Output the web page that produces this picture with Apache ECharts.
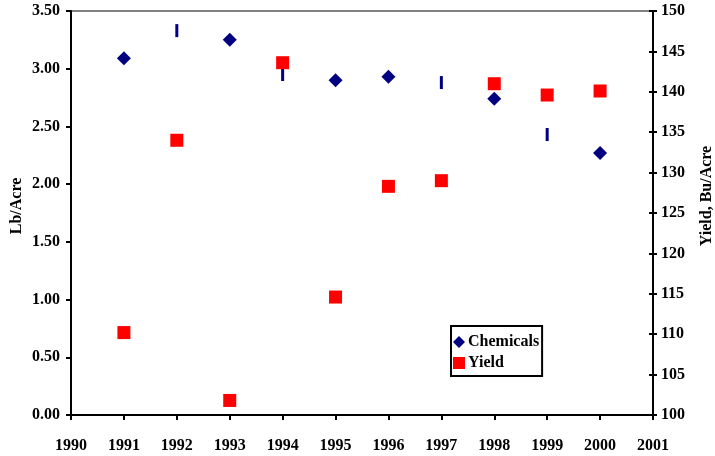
<!DOCTYPE html>
<html>
<head>
<meta charset="utf-8">
<script src="https://cdn.jsdelivr.net/npm/echarts@6/dist/echarts.min.js"></script>
<style>html,body{margin:0;padding:0;background:#fff}#c{width:715px;height:456px}</style>
</head>
<body>
<div id="c"></div>
<script>
const years = [1991, 1992, 1993, 1994, 1995, 1996, 1997, 1998, 1999, 2000];
const chemicals = [3.09, 3.33, 3.25, 2.95, 2.90, 2.93, 2.88, 2.74, 2.43, 2.27];
const yieldVals = [110.2, 134.0, 101.8, 143.6, 114.6, 128.3, 129.0, 141.0, 139.6, 140.1];
const dashYears = [1992, 1994, 1997, 1999];
const leftTitle = 'Lb/Acre';
const rightTitle = 'Yield, Bu/Acre';
const seriesNames = ['Chemicals', 'Yield'];

const FONT = '"Liberation Serif", "Times New Roman", serif';
const lbl = {fontFamily: FONT, fontWeight: 'bold', fontSize: 16, color: '#000'};

const chemData = years.map((y, i) => dashYears.includes(y)
  ? {value: [y, chemicals[i]], symbol: 'rect', symbolSize: [3, 13]}
  : {value: [y, chemicals[i]]});
const yieldData = years.map((y, i) => [y, yieldVals[i]]);

const chart = echarts.init(document.getElementById('c'), null, {renderer: 'canvas'});
chart.setOption({
  animation: false,
  backgroundColor: '#fff',
  grid: {left: 71, right: 62, top: 11, bottom: 41, show: true, borderColor: '#808080', borderWidth: 2, backgroundColor: 'transparent'},
  xAxis: {
    type: 'value', min: 1990, max: 2001, interval: 1,
    axisLine: {lineStyle: {color: '#000', width: 2}},
    axisTick: {show: true, length: 5, lineStyle: {color: '#000', width: 2}},
    axisLabel: Object.assign({margin: 23, formatter: v => String(v)}, lbl),
    splitLine: {show: false}
  },
  yAxis: [
    {
      type: 'value', min: 0, max: 3.5, interval: 0.5, position: 'left',
      axisLine: {show: true, lineStyle: {color: '#000', width: 2}},
      axisTick: {show: true, length: 5, lineStyle: {color: '#000', width: 2}},
      axisLabel: Object.assign({margin: 11, formatter: v => v.toFixed(2)}, lbl),
      splitLine: {show: false}
    },
    {
      type: 'value', min: 100, max: 150, interval: 5, position: 'right',
      axisLine: {show: true, lineStyle: {color: '#000', width: 2}},
      axisTick: {show: true, length: 4, lineStyle: {color: '#000', width: 2}},
      axisLabel: Object.assign({margin: 8}, lbl),
      splitLine: {show: false}
    },
    {
      type: 'value', min: 100, max: 150, interval: 5, position: 'right',
      axisLine: {show: false},
      axisTick: {show: true, inside: true, length: 4, lineStyle: {color: '#000', width: 2}},
      axisLabel: {show: false},
      splitLine: {show: false}
    }
  ],
  legend: {
    orient: 'vertical', left: 451, top: 326,
    data: [{name: seriesNames[0], icon: 'diamond'}, {name: seriesNames[1], icon: 'rect'}],
    itemWidth: 12, itemHeight: 12, itemGap: 5,
    padding: [8, 3, 5, 2],
    borderColor: '#000', borderWidth: 2, backgroundColor: '#fff',
    textStyle: Object.assign({}, lbl, {padding: [6, 0, 0, -2]})
  },
  graphic: [
    {type: 'text', x: 17, y: 206, rotation: Math.PI / 2,
     style: {text: leftTitle, font: 'bold 16px ' + FONT, fill: '#000', align: 'center', verticalAlign: 'middle'}},
    {type: 'text', x: 707, y: 196, rotation: Math.PI / 2,
     style: {text: rightTitle, font: 'bold 16px ' + FONT, fill: '#000', align: 'center', verticalAlign: 'middle'}}
  ],
  series: [
    {name: seriesNames[0], type: 'scatter', yAxisIndex: 0, symbol: 'diamond', symbolSize: 14,
     itemStyle: {color: '#000080', opacity: 1}, data: chemData, z: 2},
    {name: seriesNames[1], type: 'scatter', yAxisIndex: 1, symbol: 'rect', symbolSize: 13,
     itemStyle: {color: '#ff0000', opacity: 1}, data: yieldData, z: 3}
  ]
});
</script>
</body>
</html>
